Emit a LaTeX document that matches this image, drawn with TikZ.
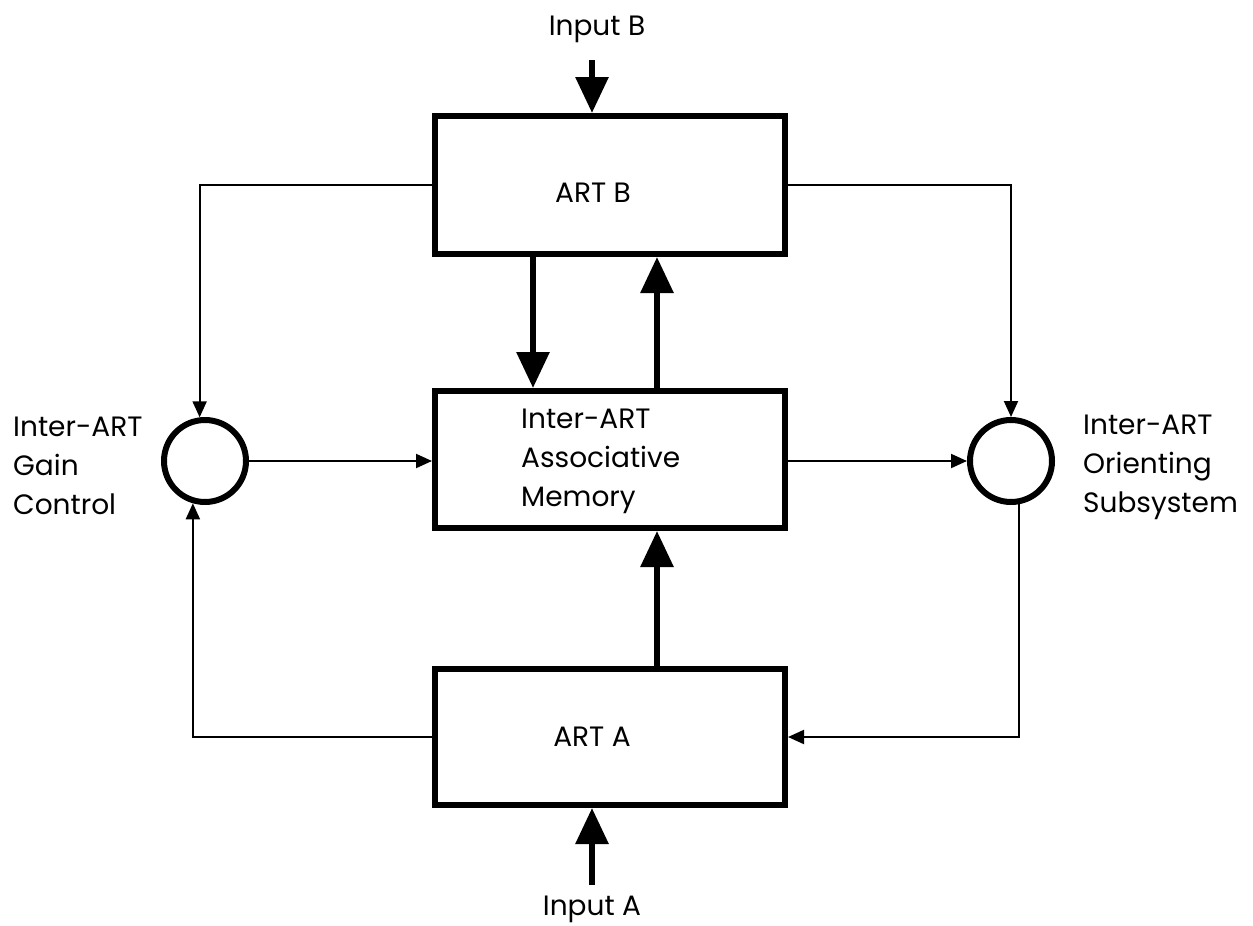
\documentclass[tikz,border=0pt]{standalone}
\usepackage{fontspec}
\setmainfont{Poppins}
\usetikzlibrary{arrows.meta,calc}
\begin{document}
\begin{tikzpicture}[x=1pt,y=-1pt,
  blk/.style={draw,line width=6pt,minimum width=350pt,inner sep=0pt},
  junc/.style={draw,circle,line width=6pt,minimum size=82pt,inner sep=0pt},
  lbl/.style={font=\fontsize{28}{39}\selectfont,inner sep=0pt},
  big/.style={line width=6pt,-{Triangle[length=36pt,width=32pt]}},
  sml/.style={line width=2pt,-{Triangle[length=16pt,width=14pt]}},
]
\useasboundingbox (0,0) rectangle (1253,926);
% boxes
\node[blk,minimum height=138pt] (artB) at (610,185) {};
\node[blk,minimum height=137pt] (mem) at (610,459.5) {};
\node[blk,minimum height=136pt] (artA) at (610,737) {};
% circles
\node[junc] (gain) at (205,461) {};
\node[junc] (orient) at (1011,461) {};
% texts
\node[lbl,anchor=base] (tInB) at (597,35) {Input B};
\node[lbl,anchor=base] (tArtB) at (593,202) {ART B};
\node[lbl,anchor=base west,align=left] (tMem) at (521,506) {Inter-ART\\Associative\\Memory};
\node[lbl,anchor=base] (tArtA) at (592,746) {ART A};
\node[lbl,anchor=base] (tInA) at (592,915) {Input A};
\node[lbl,anchor=base west,align=left] (tGain) at (13,514) {Inter-ART\\Gain\\Control};
\node[lbl,anchor=base west,align=left] (tOrient) at (1083,512) {Inter-ART\\Orienting\\Subsystem};
% thick arrows
\coordinate (inBs) at (592,60);
\coordinate (inAs) at (592,885);
\draw[big] (inBs) -- (inBs |- artB.north);
\draw[big] ([xshift=-77pt]artB.south) -- ([xshift=-77pt]mem.north);
\draw[big] ([xshift=47pt]mem.north) -- ([xshift=47pt]artB.south);
\draw[big] ([xshift=47pt]artA.north) -- ([xshift=47pt]mem.south);
\draw[big] (inAs) -- (inAs |- artA.south);
% thin connectors
\draw[sml] (artB.west) -| (gain.97);
\draw[sml] (artB.east) -| (orient.north);
\draw[sml] (gain.east) -- (gain.east -| mem.west);
\draw[sml] (mem.east |- orient.west) -- (orient.west);
\draw[sml] (artA.west) -| (gain.254);
\draw[sml] (orient.-80) |- (artA.east);
\end{tikzpicture}
\end{document}
